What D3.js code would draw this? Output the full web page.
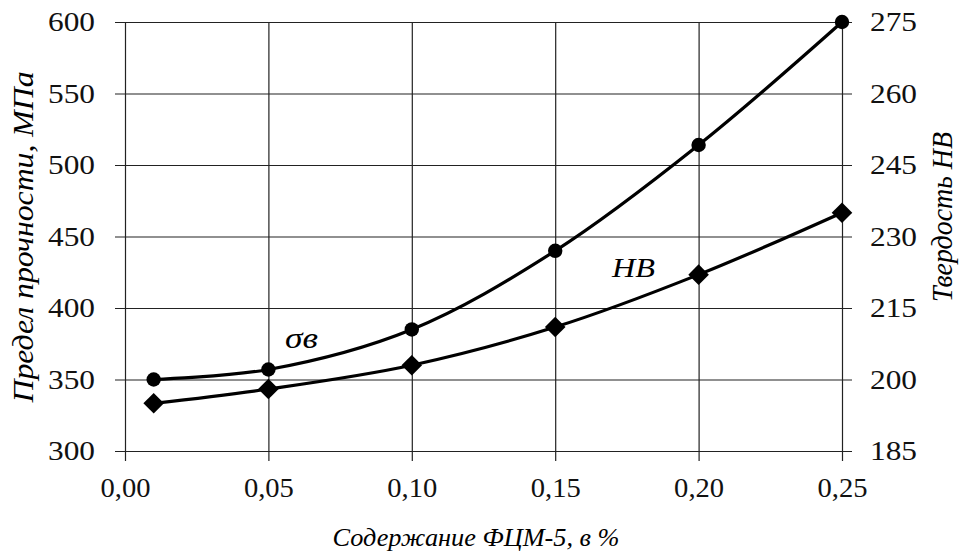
<!DOCTYPE html>
<html>
<head>
<meta charset="utf-8">
<script src="https://cdn.jsdelivr.net/npm/d3@7"></script>
<style>
  body { margin: 0; background: #fff; }
  svg { display: block; font-family: "Liberation Serif", "DejaVu Serif", serif; }
</style>
</head>
<body>
<div id="chart"></div>
<script>
// data
const xValues = [0.01, 0.05, 0.10, 0.15, 0.20, 0.25];
const strength = [350, 357, 385, 440, 514, 600];   // σв, МПа (left axis)
const hardness = [195, 198, 203, 211, 222, 235];   // HB (right axis)
const xTicks = [0, 0.05, 0.10, 0.15, 0.20, 0.25];
const leftTicks = [300, 350, 400, 450, 500, 550, 600];
const rightTicks = [185, 200, 215, 230, 245, 260, 275];

const width = 961, height = 553;
const margin = { top: 22, right: 119, bottom: 102, left: 125 };
const w = width - margin.left - margin.right;
const h = height - margin.top - margin.bottom;
const serif = '"Liberation Serif", "DejaVu Serif", serif';

const svg = d3.select('#chart').append('svg')
  .attr('width', width)
  .attr('height', height);

const g = svg.append('g')
  .attr('transform', `translate(${margin.left},${margin.top})`);

const x = d3.scaleLinear().domain([0, 0.25]).range([0, w]);
const yL = d3.scaleLinear().domain([300, 600]).range([h, 0]);
const yR = d3.scaleLinear().domain([185, 275]).range([h, 0]);

const fmt = d => d3.format('.2f')(d).replace('.', ',');

// grid + axes
const xAxis = d3.axisBottom(x).tickValues(xTicks).tickFormat(fmt)
  .tickSize(-h).tickSizeOuter(0).tickPadding(27);
const gx = g.append('g').attr('transform', `translate(0,${h})`).call(xAxis);
gx.selectAll('.tick line').attr('y1', 10).attr('y2', -h);
gx.selectAll('.tick text').attr('textLength', 50).attr('lengthAdjust', 'spacingAndGlyphs');

const leftAxis = d3.axisLeft(yL).tickValues(leftTicks).tickSize(-w).tickSizeOuter(0).tickPadding(30);
const gl = g.append('g').call(leftAxis);
gl.selectAll('.tick line').attr('x1', -10).attr('x2', w + 10);
gl.selectAll('.tick text').attr('textLength', 47).attr('lengthAdjust', 'spacingAndGlyphs');

const rightAxis = d3.axisRight(yR).tickValues(rightTicks).tickSize(0).tickPadding(28);
const gr = g.append('g').attr('transform', `translate(${w},0)`).call(rightAxis);
gr.selectAll('.tick text').attr('textLength', 47).attr('lengthAdjust', 'spacingAndGlyphs');

[gx, gl, gr].forEach(a => {
  a.attr('font-family', serif).attr('font-size', 27);
  a.select('.domain').remove();
  a.selectAll('.tick line').attr('stroke', '#222').attr('stroke-width', 1.2);
  a.selectAll('.tick text').attr('fill', '#111');
});

// lines
const curve = d3.curveCatmullRom.alpha(0.5);
const lineL = d3.line().x((d, i) => x(xValues[i])).y(d => yL(d)).curve(curve);
const lineR = d3.line().x((d, i) => x(xValues[i])).y(d => yR(d)).curve(curve);

g.append('path').datum(strength)
  .attr('fill', 'none').attr('stroke', '#000').attr('stroke-width', 3.2).attr('d', lineL);
g.append('path').datum(hardness)
  .attr('fill', 'none').attr('stroke', '#000').attr('stroke-width', 3.2).attr('d', lineR);

g.selectAll('circle.pt').data(strength).join('circle')
  .attr('class', 'pt')
  .attr('cx', (d, i) => x(xValues[i]))
  .attr('cy', d => yL(d))
  .attr('r', 7.2)
  .attr('fill', '#000');

const diamond = d3.symbol().type(d3.symbolDiamond2).size(270);
g.selectAll('path.dm').data(hardness).join('path')
  .attr('class', 'dm')
  .attr('transform', (d, i) => `translate(${x(xValues[i])},${yR(d)})`)
  .attr('d', diamond)
  .attr('fill', '#000');

// series labels
g.append('text')
  .attr('x', 285 - margin.left).attr('y', 348 - margin.top)
  .attr('font-style', 'italic').style('font-size', '30px')
  .attr('textLength', 33).attr('lengthAdjust', 'spacingAndGlyphs')
  .text('σв');
g.append('text')
  .attr('x', 612 - margin.left).attr('y', 277 - margin.top)
  .attr('font-style', 'italic').style('font-size', '28px')
  .attr('textLength', 43).attr('lengthAdjust', 'spacingAndGlyphs')
  .text('HB');

// axis titles
svg.append('text')
  .attr('transform', 'translate(33,237) rotate(-90)')
  .attr('text-anchor', 'middle')
  .attr('font-style', 'italic').style('font-size', '29px')
  .attr('textLength', 331).attr('lengthAdjust', 'spacingAndGlyphs')
  .text('Предел прочности, МПа');

svg.append('text')
  .attr('transform', 'translate(952,217) rotate(-90)')
  .attr('text-anchor', 'middle')
  .attr('font-style', 'italic').style('font-size', '29px')
  .attr('textLength', 170).attr('lengthAdjust', 'spacingAndGlyphs')
  .text('Твердость HB');

svg.append('text')
  .attr('x', 476).attr('y', 546)
  .attr('text-anchor', 'middle')
  .attr('font-style', 'italic').style('font-size', '26px')
  .attr('textLength', 287).attr('lengthAdjust', 'spacingAndGlyphs')
  .text('Содержание ФЦМ-5, в %');
</script>
</body>
</html>
